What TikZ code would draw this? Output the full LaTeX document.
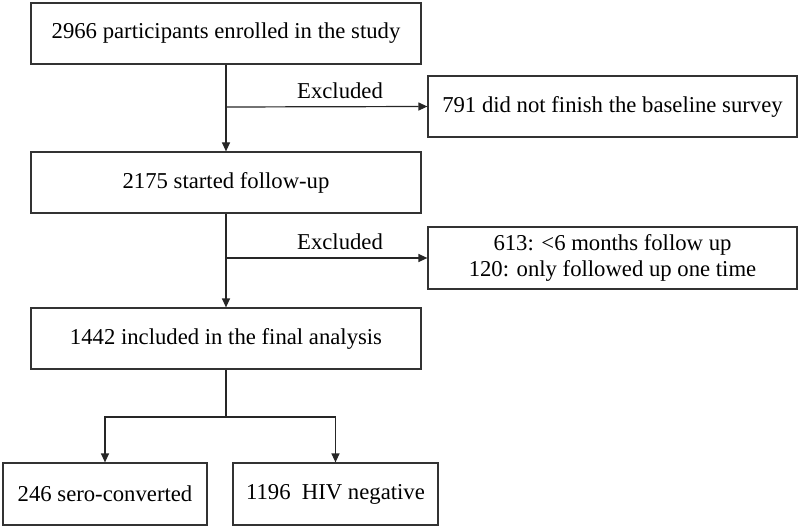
\documentclass[tikz,border=0pt]{standalone}
\usepackage{fontspec}
\setmainfont{Liberation Serif}
\usetikzlibrary{arrows.meta}
\begin{document}
\begin{tikzpicture}[x=1pt,y=-1pt,
  box/.style={draw=black!80, line width=1.2pt, rectangle, inner sep=0pt, align=center,
    font=\fontsize{22.7}{26}\selectfont},
  conn/.style={draw=black!85, line width=1.2pt},
  arr/.style={conn, -{Triangle[length=9pt,width=8pt]}},
  lbl/.style={font=\fontsize{22.7}{26}\selectfont, inner sep=0pt}]
\useasboundingbox (0,0) rectangle (800,529);
\node[box, minimum width=390, minimum height=61] (b1) at (226,33.5) {2966 participants enrolled in the study};
\node[box, minimum width=369, minimum height=61] (b2) at (612.5,106.5) {791 did not finish the baseline survey};
\node[box, minimum width=390, minimum height=61] (b3) at (226,182.5) {2175 started follow-up};
\node[box, minimum width=369, minimum height=62] (b4) at (612.5,258) {613: <6 months follow up\\120: only followed up one time};
\node[box, minimum width=390, minimum height=61] (b5) at (226,338.5) {1442 included in the final analysis};
\node[box, minimum width=204, minimum height=62] (b6) at (105,494) {246 sero-converted};
\node[box, minimum width=205, minimum height=62] (b7) at (335.5,494) {1196\ \ HIV negative};
\coordinate (j1) at (226,107);
\coordinate (j2) at (226,258);
\coordinate (j3) at (226,417);
\draw[arr] (b1.south) -- (b3.north);
\draw[arr] (j1) -- (b2.west);
\node[lbl] (e1) at (340,91) {Excluded};
\draw[arr] (b3.south) -- (b5.north);
\draw[arr] (j2) -- (b4.west);
\node[lbl] (e2) at (340,242) {Excluded};
\draw[conn] (b5.south) -- (j3);
\draw[arr] (j3) -| (b6.north);
\draw[arr] (j3) -| (b7.north);
\end{tikzpicture}
\end{document}
